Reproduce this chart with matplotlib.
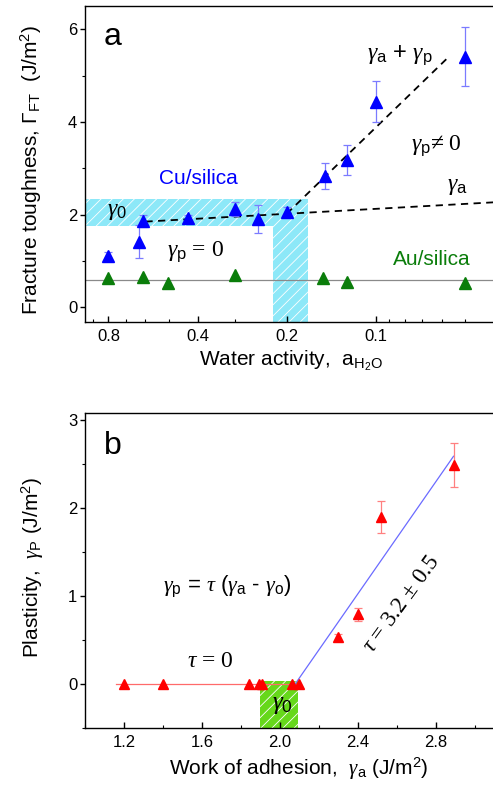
#!/usr/bin/env python3
"""fracture_plasticity.py"""

import matplotlib

matplotlib.use("Agg")
import matplotlib.pyplot as plt
import numpy as np
from matplotlib.ticker import FixedLocator, LogLocator, MultipleLocator, NullFormatter

# ---- panel a: fracture toughness vs water activity ----
cu_a = [0.80, 0.63, 0.61, 0.43, 0.30, 0.251, 0.20, 0.149, 0.125, 0.10, 0.05]
cu_gamma = [1.11, 1.42, 1.87, 1.92, 2.12, 1.90, 2.06, 2.84, 3.18, 4.44, 5.41]
cu_err = [0.08, 0.35, 0.13, 0.07, 0.15, 0.30, 0.10, 0.28, 0.32, 0.45, 0.64]

au_a = [0.80, 0.61, 0.505, 0.30, 0.151, 0.125, 0.05]
au_gamma = [0.63, 0.65, 0.52, 0.70, 0.63, 0.55, 0.53]
au_level = 0.60

ga_line_a = [0.60, 0.039]
ga_line_y = [1.85, 2.27]
gap_line_a = [0.20, 0.0577]
gap_line_y = [2.02, 5.36]

gamma0_lo, gamma0_hi = 1.76, 2.33
band_a_left, band_a_right = 0.222, 0.169

a_ticks = [0.8, 0.4, 0.2, 0.1]
a_tick_labels = ["0.8", "0.4", "0.2", "0.1"]

# ---- panel b: plasticity vs work of adhesion ----
wa = [1.20, 1.40, 1.84, 1.89, 1.91, 2.06, 2.10, 2.30, 2.40, 2.52, 2.89]
gp = [0, 0, 0, 0, 0, 0, 0, 0.53, 0.79, 1.90, 2.49]
gp_err = [0, 0, 0, 0, 0, 0, 0, 0.04, 0.07, 0.18, 0.25]

zero_x = [1.16, 2.10]
zero_y = [0.0, 0.0]
fit_x = [2.06, 2.89]
fit_y = [-0.06, 2.59]

g0_box_x = [1.90, 2.094]
g0_box_top = 0.03

plt.rcParams["font.family"] = ["Liberation Sans", "DejaVu Sans"]
plt.rcParams["mathtext.fontset"] = "custom"
plt.rcParams["mathtext.rm"] = "Liberation Sans"
plt.rcParams["mathtext.sf"] = "Liberation Sans"
plt.rcParams["mathtext.it"] = "Liberation Serif:italic"
plt.rcParams["mathtext.bf"] = "Liberation Sans:bold"
plt.rcParams["hatch.linewidth"] = 0.6

SERIF = ["Liberation Serif", "DejaVu Serif"]


def style(ax):
    for s in ax.spines.values():
        s.set_linewidth(1.0)
    ax.tick_params(axis="x", which="both", direction="in", top=False, labelsize=12, pad=5)
    ax.tick_params(axis="x", which="major", length=4, width=1)
    ax.tick_params(axis="x", which="minor", length=2.5, width=0.8)
    ax.tick_params(axis="y", which="both", direction="out", right=False, labelsize=12, pad=2)
    ax.tick_params(axis="y", which="major", length=3.5, width=1)
    ax.tick_params(axis="y", which="minor", length=2.5, width=0.8)


def plot_a(ax):
    x_lo, x_hi = 0.96, 0.039
    y_lo, y_hi = -0.31, 6.5

    # hatched gamma_0 band (inverted L)
    poly_x = [x_lo, band_a_right, band_a_right, band_a_left, band_a_left, x_lo]
    poly_y = [gamma0_hi, gamma0_hi, y_lo, y_lo, gamma0_lo, gamma0_lo]
    ax.fill(poly_x, poly_y, facecolor="#8de8f8", edgecolor="white",
            hatch="///", linewidth=0, zorder=1)

    ax.axhline(au_level, color="#8a8a8a", lw=0.9, zorder=2)
    ax.plot(ga_line_a, ga_line_y, color="black", lw=1.3, ls=(0, (4, 3)), zorder=2)
    ax.plot(gap_line_a, gap_line_y, color="black", lw=1.3, ls=(0, (4, 3)), zorder=2)

    ax.errorbar(cu_a, cu_gamma, yerr=cu_err, fmt="^", color="#0000ff", ms=9,
                mec="#0000ff", ecolor="#7b7bff", elinewidth=0.9, capsize=3,
                capthick=0.9, zorder=3)
    ax.plot(au_a, au_gamma, "^", color="#0a7d0a", ms=8.5, zorder=3)

    ax.set_xscale("log")
    ax.set_xlim(x_lo, x_hi)
    ax.set_ylim(y_lo, y_hi)
    ax.xaxis.set_major_locator(FixedLocator(a_ticks))
    ax.set_xticklabels(a_tick_labels)
    ax.xaxis.set_minor_locator(LogLocator(base=10, subs=np.arange(2, 10)))
    ax.xaxis.set_minor_formatter(NullFormatter())
    ax.yaxis.set_major_locator(MultipleLocator(2))
    ax.yaxis.set_minor_locator(MultipleLocator(1))
    style(ax)

    ax.set_xlabel(r"Water activity,  a$_\mathrm{H_2O}$", fontsize=15)
    ax.xaxis.set_label_coords(0.5, -0.085)
    ax.set_ylabel(r"Fracture toughness, Γ$_\mathrm{FT}$  (J/m$^2$)", fontsize=15)
    ax.yaxis.set_label_coords(-0.1, 0.48)

    t = ax.transAxes
    ax.text(0.068, 0.902, "a", transform=t, fontsize=23, ha="center", va="center")
    ax.text(0.765, 0.845, r"$\gamma_\mathrm{a}$ + $\gamma_\mathrm{p}$", transform=t,
            fontsize=17, ha="center", va="center")
    ax.text(0.852, 0.559, r"$\gamma_\mathrm{p}$≠ 0", transform=t, fontsize=17,
            ha="center", va="center", family=SERIF)
    ax.text(0.903, 0.43, r"$\gamma_\mathrm{a}$", transform=t, fontsize=17,
            ha="center", va="center")
    ax.text(0.274, 0.455, "Cu/silica", transform=t, fontsize=15, color="#0000ff",
            ha="center", va="center")
    ax.text(0.078, 0.352, r"$\gamma_0$", transform=t, fontsize=17,
            ha="center", va="center")
    ax.text(0.269, 0.222, r"$\gamma_\mathrm{p}$ = 0", transform=t, fontsize=17,
            ha="center", va="center", family=SERIF)
    ax.text(0.842, 0.198, "Au/silica", transform=t, fontsize=15, color="#0a7d0a",
            ha="center", va="center")


def plot_b(ax):
    x_lo, x_hi = 1.0, 3.113
    y_lo, y_hi = -0.5, 3.08

    ax.fill_between(g0_box_x, y_lo, g0_box_top, facecolor="#66d81a",
                    edgecolor="white", hatch="///", linewidth=0, zorder=1)
    ax.plot(zero_x, zero_y, color="#ff6a6a", lw=0.9, zorder=2)
    ax.plot(fit_x, fit_y, color="#6b6bff", lw=0.9, zorder=2)

    wa_arr = np.array(wa)
    gp_arr = np.array(gp)
    err_arr = np.array(gp_err)
    has_err = err_arr > 0
    ax.errorbar(wa_arr[has_err], gp_arr[has_err], yerr=err_arr[has_err], fmt="none",
                ecolor="#ff8080", elinewidth=0.9, capsize=3, capthick=0.9, zorder=2)
    ax.plot(wa, gp, "^", color="#ff0000", ms=7.5, zorder=3)

    ax.set_xlim(x_lo, x_hi)
    ax.set_ylim(y_lo, y_hi)
    ax.xaxis.set_major_locator(MultipleLocator(0.4))
    ax.xaxis.set_minor_locator(MultipleLocator(0.2))
    ax.xaxis.set_major_formatter(plt.FuncFormatter(lambda v, p: f"{v:.1f}"))
    ax.yaxis.set_major_locator(MultipleLocator(1))
    ax.yaxis.set_minor_locator(MultipleLocator(0.5))
    style(ax)

    ax.set_xlabel(r"Work of adhesion,  $\gamma_\mathrm{a}$ (J/m$^2$)", fontsize=15)
    ax.xaxis.set_label_coords(0.52, -0.09)
    ax.set_ylabel(r"Plasticity,  $\gamma_\mathrm{P}$ (J/m$^2$)", fontsize=15)
    ax.yaxis.set_label_coords(-0.095, 0.51)

    t = ax.transAxes
    ax.text(0.068, 0.896, "b", transform=t, fontsize=23, ha="center", va="center")
    ax.text(0.345, 0.45,
            r"$\gamma_\mathrm{p}$ = $\tau$ ($\gamma_\mathrm{a}$ - $\gamma_\mathrm{o}$)",
            transform=t, fontsize=16, ha="center", va="center")
    ax.text(0.303, 0.21, r"$\tau$ = 0", transform=t, fontsize=17,
            ha="center", va="center", family=SERIF)
    ax.text(0.769, 0.393, r"$\tau$ = 3.2 ± 0.5", transform=t, fontsize=16.5,
            ha="center", va="center", rotation=54, family=SERIF)
    ax.text(0.478, 0.075, r"$\gamma_0$", transform=t, fontsize=18,
            ha="center", va="center")


def main():
    fig = plt.figure(figsize=(4.93, 7.95), dpi=100)
    ax_a = fig.add_axes([0.1724, 0.5953, 0.8357, 0.3971])
    ax_b = fig.add_axes([0.1724, 0.0847, 0.8357, 0.3955])
    plot_a(ax_a)
    plot_b(ax_b)
    fig.savefig("out.png", dpi=100)


if __name__ == "__main__":
    main()
